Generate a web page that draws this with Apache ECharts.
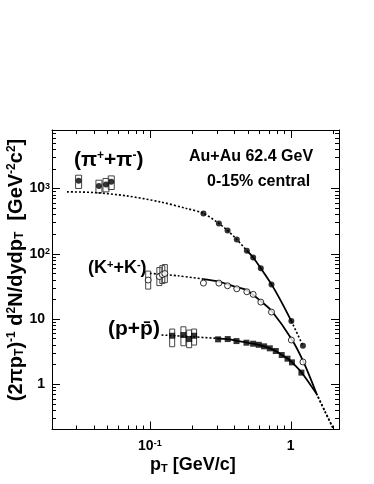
<!DOCTYPE html>
<html><head><meta charset="utf-8">
<script src="https://cdn.jsdelivr.net/npm/echarts@6/dist/echarts.min.js"></script>
<style>html,body{margin:0;padding:0;background:#fff}#c{width:374px;height:484px}</style>
</head><body><div id="c"></div>
<script>
// ---------- data ----------
const pionPt   = [0.0312,0.0435,0.0488,0.0532,0.240,0.309,0.356,0.414,0.488,0.541,0.613,0.730,1.01,1.22];
const pionY    = [1312,1099,1156,1267,416,292,228,166,111,88,60,34,9.3,3.9];
const kaonPt   = [0.0973,0.1168,0.1226,0.1277,0.240,0.309,0.356,0.414,0.488,0.541,0.613,0.730,1.01,1.22];
const kaonY    = [39.6,44.8,48,49.8,35.6,35.6,32.4,29.1,26.2,23.9,18.2,12.8,4.77,2.2];
const protonPt = [0.144,0.173,0.190,0.206,0.305,0.357,0.412,0.485,0.541,0.593,0.647,0.710,0.783,0.863,0.948,1.02,1.19];
const protonY  = [5.55,5.69,4.94,5.55,4.89,4.94,4.60,4.34,4.19,4.03,3.82,3.56,3.24,2.81,2.47,2.17,1.51];

// systematic-error boxes for the low-pT points (first four of each species)
const pionSysLo   = [1004,859,890,968];
const pionSysHi   = [1603,1344,1429,1564];
const kaonSysLo   = [28.8,32.6,35.0,36.2];
const kaonSysHi   = [54.3,61.5,65.9,68.4];
const protonSysLo = [3.77,3.90,3.64,4.00];
const protonSysHi = [7.03,7.62,6.79,7.03];

// fit curves (dotted = extrapolation, solid = fit range)
const pionFitDotAx = [0.0258,0.0396,0.0684,0.118,0.182,0.240,0.309,0.356,0.414,0.488];
const pionFitDotAy = [890,871,773,626,496,416,292,228,166,112];
const pionFitSolx  = [0.488,0.541,0.613,0.730,0.86,1.01];
const pionFitSoly  = [112,88,60,34,18.2,9.3];
const pionFitDotBx = [1.01,1.22];
const pionFitDotBy = [9.3,3.9];

const kaonFitDotAx = [0.1,0.158,0.24];
const kaonFitDotAy = [50.2,46,41];
const kaonFitSolx  = [0.24,0.313,0.40,0.485,0.62,0.73,1.01,1.22,1.52];
const kaonFitSoly  = [41,37.3,31.5,27.8,18.4,13.4,5.0,2.3,0.73];
const kaonFitDotBx = [1.52,1.75,2.0];
const kaonFitDotBy = [0.73,0.385,0.212];

const protonFitDotAx = [0.121,0.2,0.297];
const protonFitDotAy = [5.7,5.36,5.06];
const protonFitSolx  = [0.297,0.357,0.412,0.485,0.541,0.593,0.647,0.710,0.783,0.863,0.948,1.02,1.19,1.52];
const protonFitSoly  = [5.06,4.92,4.65,4.38,4.2,4.03,3.82,3.56,3.24,2.83,2.48,2.18,1.53,0.72];
const protonFitDotBx = [1.52,1.75,2.0];
const protonFitDotBy = [0.72,0.38,0.21];

const xRange = [0.0202, 2.2];
const yRange = [0.203, 7900];

// ---------- chart ----------
const FONT = '"Liberation Sans", Arial, Helvetica, sans-serif';
const zip = (xs, ys) => xs.map((x, i) => [x, ys[i]]);

function isPow10(v){ const l = Math.log10(v); return Math.abs(l - Math.round(l)) < 1e-6; }
function xLabel(v){
  if (!isPow10(v)) return '';
  const e = Math.round(Math.log10(v));
  return e === 0 ? '1' : '10{s|' + e + '}';
}
function yLabel(v){
  if (!isPow10(v)) return '';
  const e = Math.round(Math.log10(v));
  if (e === 0) return '1{p| }';
  if (e === 1) return '10{p| }';
  return '10{s|' + e + '}';
}
const labelRich = {
  s: {fontSize: 9, fontWeight: 'bold', fontFamily: FONT, color: '#000', verticalAlign: 'top', padding: [0,0,5,0]},
  p: {fontSize: 9, width: 5}
};

function axisCommon(extra){
  return Object.assign({
    type: 'log', logBase: 10,
    axisLine: {show: true, onZero: false, lineStyle: {color: '#000', width: 1}},
    axisTick: {show: true, inside: true, length: 8, lineStyle: {color: '#000', width: 1}},
    minorTick: {show: true, splitNumber: 9, length: 4, lineStyle: {color: '#000', width: 1}},
    splitLine: {show: false},
    minorSplitLine: {show: false}
  }, extra);
}

function curve(xs, ys, dotted){
  return {
    type: 'line', data: zip(xs, ys), symbol: 'none', smooth: 0.3, z: 3, silent: true,
    lineStyle: {color: '#000', width: dotted ? 1.6 : 1.8, type: dotted ? [2, 2] : 'solid'}
  };
}
function boxes(xs, lo, hi, w){
  return {
    type: 'custom', z: 2, silent: true,
    encode: {x: 0, y: [1, 2]},
    data: lo.map((l, i) => [xs[i], l, hi[i]]),
    renderItem(params, api){
      const top = api.coord([api.value(0), api.value(2)]);
      const bot = api.coord([api.value(0), api.value(1)]);
      return {type: 'rect', shape: {x: top[0] - w/2, y: top[1], width: w, height: bot[1] - top[1]},
              style: {fill: 'none', stroke: '#444', lineWidth: 1}};
    }
  };
}
function points(xs, ys, symbol, size, fill){
  return {
    type: 'scatter', data: zip(xs, ys), symbol: symbol, symbolSize: size, z: 4, silent: true,
    itemStyle: {color: fill, borderColor: '#000', borderWidth: fill === '#fff' ? 1 : 0}
  };
}

const chart = echarts.init(document.getElementById('c'), null, {renderer: 'canvas'});
chart.setOption({
  animation: false,
  backgroundColor: '#fff',
  grid: {left: 52, top: 130, right: 35, bottom: 54.5, outerBoundsMode: 'none', containLabel: false},
  xAxis: [
    axisCommon({position: 'bottom', min: xRange[0], max: xRange[1],
      axisLabel: {show: true, margin: 10, formatter: xLabel, color: '#000', fontSize: 14, fontWeight: 'bold', fontFamily: FONT, rich: labelRich}}),
    axisCommon({position: 'top', min: xRange[0], max: xRange[1], axisLabel: {show: false}})
  ],
  yAxis: [
    axisCommon({position: 'left', min: yRange[0], max: yRange[1],
      axisLabel: {show: true, margin: 2, formatter: yLabel, color: '#000', fontSize: 14, fontWeight: 'bold', fontFamily: FONT, rich: labelRich}}),
    axisCommon({position: 'right', min: yRange[0], max: yRange[1], axisLabel: {show: false}})
  ],
  series: [
    boxes(pionPt, pionSysLo, pionSysHi, 6),
    boxes(kaonPt, kaonSysLo, kaonSysHi, 5),
    boxes(protonPt, protonSysLo, protonSysHi, 5),
    curve(pionFitDotAx, pionFitDotAy, true),
    curve(pionFitSolx, pionFitSoly, false),
    curve(pionFitDotBx, pionFitDotBy, true),
    curve(kaonFitDotAx, kaonFitDotAy, true),
    curve(kaonFitSolx, kaonFitSoly, false),
    curve(kaonFitDotBx, kaonFitDotBy, true),
    curve(protonFitDotAx, protonFitDotAy, true),
    curve(protonFitSolx, protonFitSoly, false),
    curve(protonFitDotBx, protonFitDotBy, true),
    points(pionPt, pionY, 'circle', 6, '#000'),
    points(kaonPt, kaonY, 'circle', 6, '#fff'),
    points(protonPt, protonY, 'rect', 6, '#000')
  ],
  graphic: [
    {type: 'text', left: 74, top: 150, z: 10, style: {
      text: '(π{s|+}+π{s|-})', fontSize: 21, fontWeight: 'bold', fontFamily: FONT, fill: '#000',
      rich: {s: {fontSize: 12, fontWeight: 'bold', fontFamily: FONT, verticalAlign: 'top', padding: [0,0,8,0]}}}},
    {type: 'text', left: 88, top: 259, z: 10, style: {
      text: '(K{s|+}+K{s|-})', fontSize: 18, fontWeight: 'bold', fontFamily: FONT, fill: '#000',
      rich: {s: {fontSize: 11, fontWeight: 'bold', fontFamily: FONT, verticalAlign: 'top', padding: [0,0,7,0]}}}},
    {type: 'text', left: 108, top: 319, z: 10, style: {
      text: '(p+p\u0304)', fontSize: 21, fontWeight: 'bold', fontFamily: FONT, fill: '#000'}},
    {type: 'text', left: 189, top: 149, z: 10, style: {
      text: 'Au+Au 62.4 GeV', fontSize: 16, fontWeight: 'bold', fontFamily: FONT, fill: '#000'}},
    {type: 'text', left: 207, top: 174, z: 10, style: {
      text: '0-15% central', fontSize: 16, fontWeight: 'bold', fontFamily: FONT, fill: '#000'}},
    {type: 'text', left: 150, top: 456, z: 10, style: {
      text: 'p{b|T} [GeV/c]', fontSize: 18, fontWeight: 'bold', fontFamily: FONT, fill: '#000',
      rich: {b: {fontSize: 11, fontWeight: 'bold', fontFamily: FONT, verticalAlign: 'bottom'}}}},
    {type: 'text', x: 16, y: 270, rotation: Math.PI / 2, z: 10, style: {
      text: '(2πp{b|T}){s|-1} d{s|2}N/dydp{b|T}  [GeV{s|-2}c{s|2}]',
      fontSize: 20, fontWeight: 'bold', fontFamily: FONT, fill: '#000', align: 'center', verticalAlign: 'middle',
      rich: {
        s: {fontSize: 12, fontWeight: 'bold', fontFamily: FONT, verticalAlign: 'top', padding: [0,0,6,0]},
        b: {fontSize: 12, fontWeight: 'bold', fontFamily: FONT, verticalAlign: 'bottom'}
      }}}
  ]
});
</script></body></html>
